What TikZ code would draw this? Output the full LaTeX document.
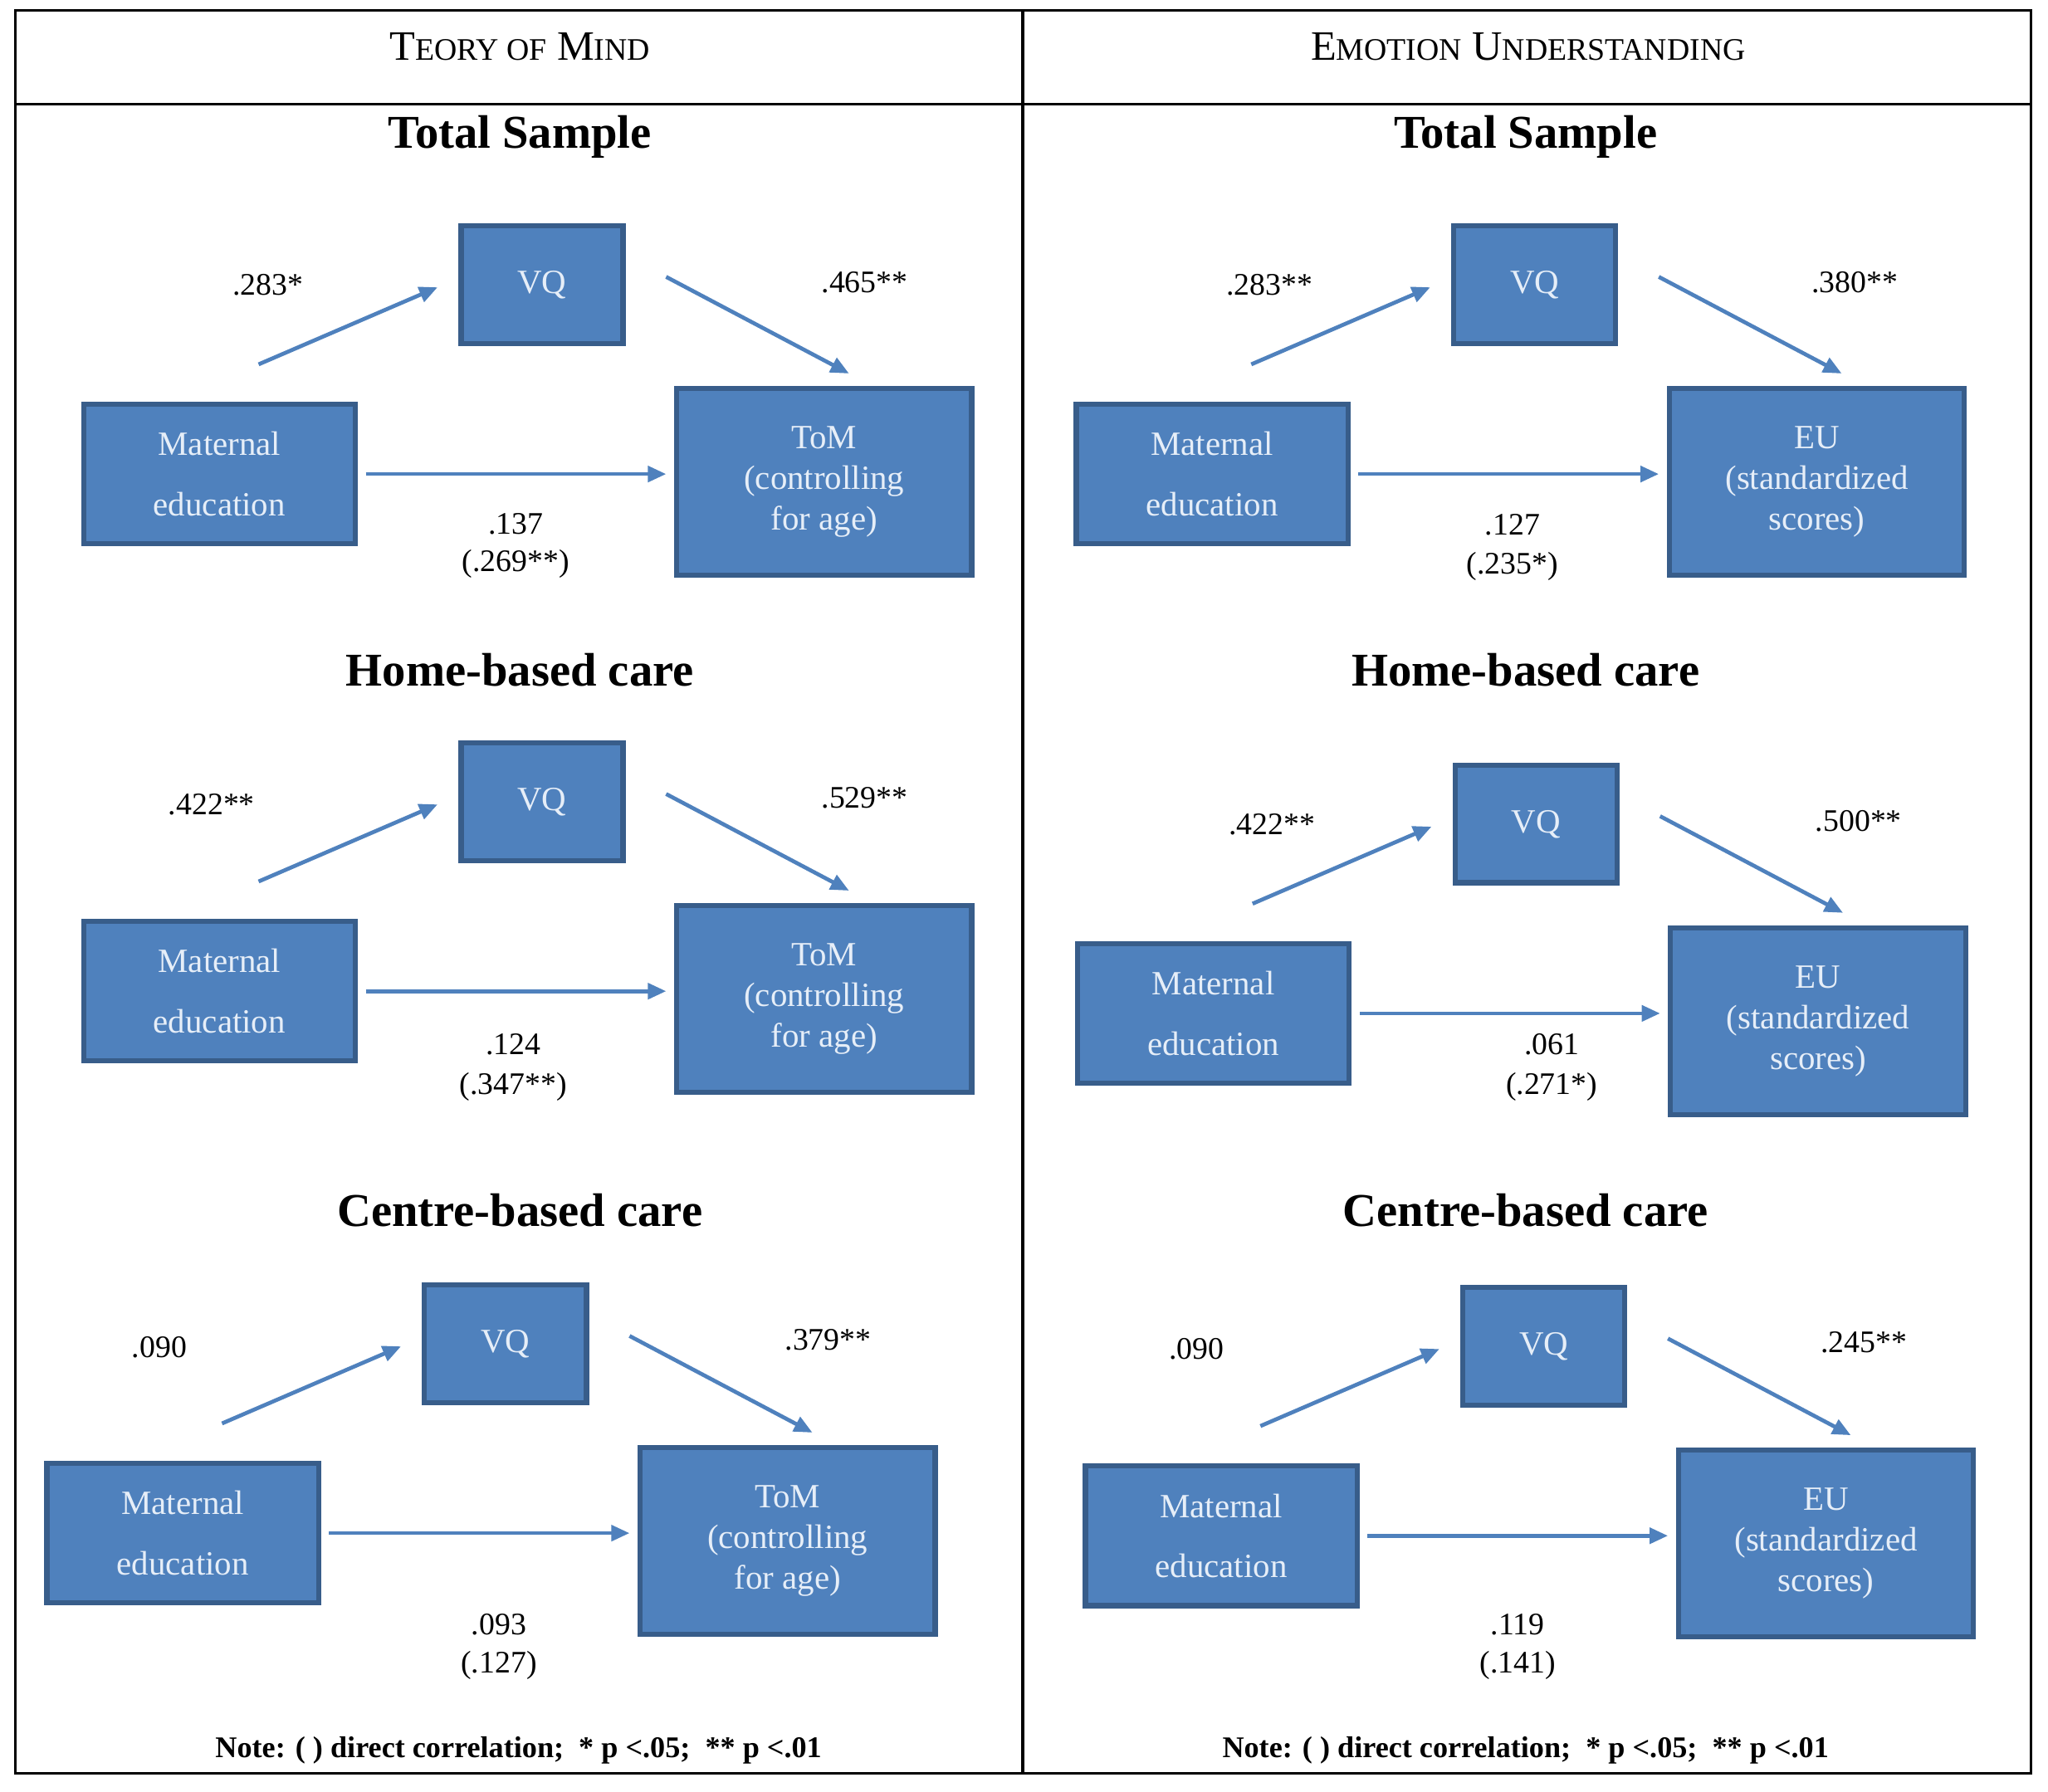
\documentclass[tikz,border=0pt]{standalone}
\usepackage{fontspec}
\setmainfont{Liberation Serif}
\usetikzlibrary{arrows.meta}
\definecolor{bfill}{HTML}{4F81BD}
\definecolor{bdraw}{HTML}{385D8A}
\definecolor{btext}{HTML}{E6EEF8}
\tikzset{
  bx/.style={draw=bdraw,line width=4pt,fill=bfill,text=btext,inner sep=0pt,font=\fontsize{26}{31}\selectfont,align=center},
  ar/.style={draw=bfill,line width=3pt,-{Triangle[length=14pt,width=12pt]}},
  lab/.style={font=\fontsize{24}{28}\selectfont},
  ttl/.style={font=\fontsize{36}{40}\selectfont\bfseries},
  hdr/.style={font=\fontsize{32}{36}\selectfont},
  note/.style={font=\fontsize{23}{26}\selectfont\bfseries}
}
\newcommand\medpanel[4]{%
 \begin{scope}[shift={(#2,#3)}]
  \node[bx,minimum width=124pt,minimum height=90pt] (#1vq) at (415,218) {VQ};
  \node[bx,minimum width=208pt,minimum height=107pt,font=\fontsize{26}{46}\selectfont] (#1me) at (168,363) {Maternal\\education};
  \node[bx,minimum width=226pt,minimum height=143pt] (#1tg) at (631,369) {#4};
  \coordinate (#1a) at (198,279); \coordinate (#1b) at (335,220);
  \coordinate (#1c) at (510,212); \coordinate (#1d) at (650,286);
  \coordinate (#1e) at (280,363); \coordinate (#1f) at (510,363);
  \draw[ar] (#1a) -- (#1b);
  \draw[ar] (#1c) -- (#1d);
  \draw[ar] (#1e) -- (#1f);
 \end{scope}}
\begin{document}
\begin{tikzpicture}[x=1pt,y=-1pt]
\useasboundingbox (0,0) rectangle (1568,1372);
\draw[line width=2pt] (12,8) rectangle (1555,1358);
\draw[line width=2pt] (12,80) -- (1555,80);
\draw[line width=2pt] (783,8) -- (783,1358);
\node[hdr] (h1) at (398,36) {T{\fontsize{24}{28}\selectfont EORY OF} M{\fontsize{24}{28}\selectfont IND}};
\node[hdr] (h2) at (1170,36) {E{\fontsize{24}{28}\selectfont MOTION} U{\fontsize{24}{28}\selectfont NDERSTANDING}};
\node[ttl] (t1) at (398,105) {Total Sample};
\node[ttl] (t2) at (1168,105) {Total Sample};
\node[ttl] (t3) at (398,513) {Home-based care};
\node[ttl] (t4) at (1168,513) {Home-based care};
\node[ttl] (t5) at (398,927) {Centre-based care};
\node[ttl] (t6) at (1168,927) {Centre-based care};
\medpanel{p1}{0}{0}{ToM\\(controlling\\for age)}
\medpanel{p2}{0}{396}{ToM\\(controlling\\for age)}
\medpanel{p3}{-28}{811}{ToM\\(controlling\\for age)}
\medpanel{p4}{760}{0}{EU\\(standardized\\scores)}
\medpanel{p5}{761}{413}{EU\\(standardized\\scores)}
\medpanel{p6}{767}{813}{EU\\(standardized\\scores)}
% labels
\node[lab] (l1a) at (205,218) {.283*};
\node[lab] (l1b) at (662,216) {.465**};
\node[lab] (l1c) at (395,401) {.137};
\node[lab] (l1d) at (395,432) {(.269**)};
\node[lab] (l2a) at (162,616) {.422**};
\node[lab] (l2b) at (662,611) {.529**};
\node[lab] (l2c) at (393,800) {.124};
\node[lab] (l2d) at (393,832) {(.347**)};
\node[lab] (l3a) at (122,1032) {.090};
\node[lab] (l3b) at (634,1026) {.379**};
\node[lab] (l3c) at (382,1244) {.093};
\node[lab] (l3d) at (382,1275) {(.127)};
\node[lab] (l4a) at (972,218) {.283**};
\node[lab] (l4b) at (1420,216) {.380**};
\node[lab] (l4c) at (1158,402) {.127};
\node[lab] (l4d) at (1158,434) {(.235*)};
\node[lab] (l5a) at (974,631) {.422**};
\node[lab] (l5b) at (1423,629) {.500**};
\node[lab] (l5c) at (1188,800) {.061};
\node[lab] (l5d) at (1188,832) {(.271*)};
\node[lab] (l6a) at (916,1033) {.090};
\node[lab] (l6b) at (1427,1028) {.245**};
\node[lab] (l6c) at (1162,1244) {.119};
\node[lab] (l6d) at (1162,1275) {(.141)};
\node[note] (n1) at (397,1340) {Note: ( ) direct correlation;\ \ * p <.05;\ \ ** p <.01};
\node[note] (n2) at (1168,1340) {Note: ( ) direct correlation;\ \ * p <.05;\ \ ** p <.01};
\end{tikzpicture}
\end{document}
